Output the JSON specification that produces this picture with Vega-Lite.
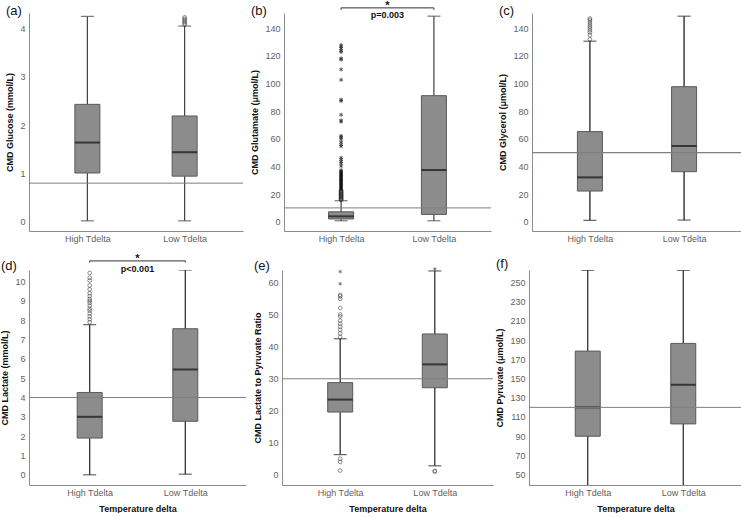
{
"$schema": "https://vega.github.io/schema/vega-lite/v6.json",
"padding": {"left": 0, "top": -1, "right": 0, "bottom": 0},
"background": "white",
"config": {
  "view": {"stroke": null},
  "axis": {"domainColor": "#8c8c8c", "domainWidth": 1, "ticks": false, "grid": false, "labelOverlap": false, "labelFont": "Liberation Sans", "labelFontSize": 9, "labelColor": "#5f5f5f", "titleFont": "Liberation Sans", "titleFontSize": 9, "titleFontWeight": "bold", "titleColor": "#111111", "labelPadding": 4, "titlePadding": 5},
  "axisX": {"labelPadding": 3},
  "title": {"anchor": "start", "frame": "bounds", "font": "Liberation Sans", "fontSize": 13, "fontWeight": "normal", "color": "#111111", "offset": 0}
},
"datasets": {
  "boxes": [
    {"panel": "a", "group": "High Tdelta", "lo": 0.02, "q1": 1.01, "med": 1.64, "q3": 2.43, "hi": 4.25},
    {"panel": "a", "group": "Low Tdelta", "lo": 0.02, "q1": 0.945, "med": 1.44, "q3": 2.19, "hi": 4.05},
    {"panel": "b", "group": "High Tdelta", "lo": 0.7, "q1": 2, "med": 3.9, "q3": 7.2, "hi": 15.2},
    {"panel": "b", "group": "Low Tdelta", "lo": 0.7, "q1": 5.3, "med": 37.4, "q3": 91.2, "hi": 148.7},
    {"panel": "c", "group": "High Tdelta", "lo": 1, "q1": 22.2, "med": 32.1, "q3": 65.2, "hi": 130.6},
    {"panel": "c", "group": "Low Tdelta", "lo": 1.2, "q1": 36.2, "med": 54.8, "q3": 97.7, "hi": 148.7},
    {"panel": "d", "group": "High Tdelta", "lo": 0, "q1": 1.9, "med": 3.0, "q3": 4.26, "hi": 7.77},
    {"panel": "d", "group": "Low Tdelta", "lo": 0.03, "q1": 2.77, "med": 5.45, "q3": 7.56, "hi": 10.6},
    {"panel": "e", "group": "High Tdelta", "lo": 6.3, "q1": 19.6, "med": 23.5, "q3": 28.8, "hi": 42.5},
    {"panel": "e", "group": "Low Tdelta", "lo": 2.8, "q1": 27.2, "med": 34.5, "q3": 44, "hi": 63.7},
    {"panel": "f", "group": "High Tdelta", "lo": 30, "q1": 90, "med": 120, "q3": 178.5, "hi": 262.5},
    {"panel": "f", "group": "Low Tdelta", "lo": 30, "q1": 102.8, "med": 143.5, "q3": 186.5, "hi": 262.5}
  ],
  "refs": [
    {"panel": "a", "value": 0.8},
    {"panel": "b", "value": 10},
    {"panel": "c", "value": 50},
    {"panel": "d", "value": 4},
    {"panel": "e", "value": 30},
    {"panel": "f", "value": 120}
  ],
  "sig": [
    {"panel": "b", "from": "High Tdelta", "to": "Low Tdelta", "label": "p=0.003"},
    {"panel": "d", "from": "High Tdelta", "to": "Low Tdelta", "label": "p<0.001"}
  ],
  "outliers": [
    {"panel": "a", "group": "Low Tdelta", "value": 4.08, "kind": "o"},
    {"panel": "a", "group": "Low Tdelta", "value": 4.11, "kind": "o"},
    {"panel": "a", "group": "Low Tdelta", "value": 4.14, "kind": "o"},
    {"panel": "a", "group": "Low Tdelta", "value": 4.17, "kind": "o"},
    {"panel": "a", "group": "Low Tdelta", "value": 4.2, "kind": "o"},
    {"panel": "a", "group": "Low Tdelta", "value": 4.23, "kind": "o"},
    {"panel": "b", "group": "High Tdelta", "value": 15.8, "kind": "o"},
    {"panel": "b", "group": "High Tdelta", "value": 16.3, "kind": "o"},
    {"panel": "b", "group": "High Tdelta", "value": 16.9, "kind": "o"},
    {"panel": "b", "group": "High Tdelta", "value": 17.4, "kind": "o"},
    {"panel": "b", "group": "High Tdelta", "value": 18.0, "kind": "o"},
    {"panel": "b", "group": "High Tdelta", "value": 18.6, "kind": "o"},
    {"panel": "b", "group": "High Tdelta", "value": 19.1, "kind": "o"},
    {"panel": "b", "group": "High Tdelta", "value": 19.7, "kind": "o"},
    {"panel": "b", "group": "High Tdelta", "value": 20.3, "kind": "o"},
    {"panel": "b", "group": "High Tdelta", "value": 20.9, "kind": "o"},
    {"panel": "b", "group": "High Tdelta", "value": 21.5, "kind": "o"},
    {"panel": "b", "group": "High Tdelta", "value": 22.1, "kind": "o"},
    {"panel": "b", "group": "High Tdelta", "value": 22.7, "kind": "o"},
    {"panel": "b", "group": "High Tdelta", "value": 23.3, "kind": "s"},
    {"panel": "b", "group": "High Tdelta", "value": 23.9, "kind": "s"},
    {"panel": "b", "group": "High Tdelta", "value": 24.5, "kind": "s"},
    {"panel": "b", "group": "High Tdelta", "value": 25.1, "kind": "s"},
    {"panel": "b", "group": "High Tdelta", "value": 25.7, "kind": "s"},
    {"panel": "b", "group": "High Tdelta", "value": 26.3, "kind": "s"},
    {"panel": "b", "group": "High Tdelta", "value": 26.9, "kind": "s"},
    {"panel": "b", "group": "High Tdelta", "value": 27.5, "kind": "s"},
    {"panel": "b", "group": "High Tdelta", "value": 28.1, "kind": "s"},
    {"panel": "b", "group": "High Tdelta", "value": 28.7, "kind": "s"},
    {"panel": "b", "group": "High Tdelta", "value": 29.3, "kind": "s"},
    {"panel": "b", "group": "High Tdelta", "value": 29.9, "kind": "s"},
    {"panel": "b", "group": "High Tdelta", "value": 30.5, "kind": "s"},
    {"panel": "b", "group": "High Tdelta", "value": 31.1, "kind": "s"},
    {"panel": "b", "group": "High Tdelta", "value": 31.7, "kind": "s"},
    {"panel": "b", "group": "High Tdelta", "value": 32.3, "kind": "s"},
    {"panel": "b", "group": "High Tdelta", "value": 32.9, "kind": "s"},
    {"panel": "b", "group": "High Tdelta", "value": 33.5, "kind": "s"},
    {"panel": "b", "group": "High Tdelta", "value": 34.1, "kind": "s"},
    {"panel": "b", "group": "High Tdelta", "value": 34.7, "kind": "s"},
    {"panel": "b", "group": "High Tdelta", "value": 35.3, "kind": "s"},
    {"panel": "b", "group": "High Tdelta", "value": 35.9, "kind": "s"},
    {"panel": "b", "group": "High Tdelta", "value": 36.5, "kind": "s"},
    {"panel": "b", "group": "High Tdelta", "value": 37.3, "kind": "s"},
    {"panel": "b", "group": "High Tdelta", "value": 40.2, "kind": "s"},
    {"panel": "b", "group": "High Tdelta", "value": 42.1, "kind": "s"},
    {"panel": "b", "group": "High Tdelta", "value": 43.4, "kind": "s"},
    {"panel": "b", "group": "High Tdelta", "value": 44.9, "kind": "s"},
    {"panel": "b", "group": "High Tdelta", "value": 46.3, "kind": "s"},
    {"panel": "b", "group": "High Tdelta", "value": 54.6, "kind": "s"},
    {"panel": "b", "group": "High Tdelta", "value": 55.8, "kind": "s"},
    {"panel": "b", "group": "High Tdelta", "value": 57.6, "kind": "s"},
    {"panel": "b", "group": "High Tdelta", "value": 59.8, "kind": "s"},
    {"panel": "b", "group": "High Tdelta", "value": 61.2, "kind": "s"},
    {"panel": "b", "group": "High Tdelta", "value": 62.1, "kind": "s"},
    {"panel": "b", "group": "High Tdelta", "value": 72.4, "kind": "s"},
    {"panel": "b", "group": "High Tdelta", "value": 73.3, "kind": "s"},
    {"panel": "b", "group": "High Tdelta", "value": 77.4, "kind": "s"},
    {"panel": "b", "group": "High Tdelta", "value": 87.4, "kind": "s"},
    {"panel": "b", "group": "High Tdelta", "value": 88.3, "kind": "s"},
    {"panel": "b", "group": "High Tdelta", "value": 102.7, "kind": "s"},
    {"panel": "b", "group": "High Tdelta", "value": 110.2, "kind": "s"},
    {"panel": "b", "group": "High Tdelta", "value": 117.3, "kind": "s"},
    {"panel": "b", "group": "High Tdelta", "value": 118.1, "kind": "s"},
    {"panel": "b", "group": "High Tdelta", "value": 122.8, "kind": "s"},
    {"panel": "b", "group": "High Tdelta", "value": 123.9, "kind": "s"},
    {"panel": "b", "group": "High Tdelta", "value": 125.4, "kind": "s"},
    {"panel": "b", "group": "High Tdelta", "value": 126.6, "kind": "s"},
    {"panel": "b", "group": "High Tdelta", "value": 127.8, "kind": "s"},
    {"panel": "c", "group": "High Tdelta", "value": 132, "kind": "o"},
    {"panel": "c", "group": "High Tdelta", "value": 135, "kind": "o"},
    {"panel": "c", "group": "High Tdelta", "value": 137, "kind": "o"},
    {"panel": "c", "group": "High Tdelta", "value": 138.5, "kind": "o"},
    {"panel": "c", "group": "High Tdelta", "value": 140, "kind": "o"},
    {"panel": "c", "group": "High Tdelta", "value": 141.5, "kind": "o"},
    {"panel": "c", "group": "High Tdelta", "value": 143, "kind": "o"},
    {"panel": "c", "group": "High Tdelta", "value": 144.5, "kind": "o"},
    {"panel": "c", "group": "High Tdelta", "value": 146, "kind": "o"},
    {"panel": "c", "group": "High Tdelta", "value": 147, "kind": "o"},
    {"panel": "d", "group": "High Tdelta", "value": 7.9, "kind": "o"},
    {"panel": "d", "group": "High Tdelta", "value": 8.05, "kind": "o"},
    {"panel": "d", "group": "High Tdelta", "value": 8.2, "kind": "o"},
    {"panel": "d", "group": "High Tdelta", "value": 8.35, "kind": "o"},
    {"panel": "d", "group": "High Tdelta", "value": 8.5, "kind": "o"},
    {"panel": "d", "group": "High Tdelta", "value": 8.6, "kind": "o"},
    {"panel": "d", "group": "High Tdelta", "value": 8.75, "kind": "o"},
    {"panel": "d", "group": "High Tdelta", "value": 8.9, "kind": "o"},
    {"panel": "d", "group": "High Tdelta", "value": 9.0, "kind": "o"},
    {"panel": "d", "group": "High Tdelta", "value": 9.1, "kind": "o"},
    {"panel": "d", "group": "High Tdelta", "value": 9.25, "kind": "o"},
    {"panel": "d", "group": "High Tdelta", "value": 9.4, "kind": "o"},
    {"panel": "d", "group": "High Tdelta", "value": 9.6, "kind": "o"},
    {"panel": "d", "group": "High Tdelta", "value": 9.8, "kind": "o"},
    {"panel": "d", "group": "High Tdelta", "value": 10.05, "kind": "o"},
    {"panel": "d", "group": "High Tdelta", "value": 10.2, "kind": "o"},
    {"panel": "d", "group": "High Tdelta", "value": 10.45, "kind": "o"},
    {"panel": "e", "group": "High Tdelta", "value": 43.1, "kind": "o"},
    {"panel": "e", "group": "High Tdelta", "value": 44.2, "kind": "o"},
    {"panel": "e", "group": "High Tdelta", "value": 45.3, "kind": "o"},
    {"panel": "e", "group": "High Tdelta", "value": 46.3, "kind": "o"},
    {"panel": "e", "group": "High Tdelta", "value": 47.2, "kind": "o"},
    {"panel": "e", "group": "High Tdelta", "value": 48.2, "kind": "o"},
    {"panel": "e", "group": "High Tdelta", "value": 49.5, "kind": "o"},
    {"panel": "e", "group": "High Tdelta", "value": 50.1, "kind": "o"},
    {"panel": "e", "group": "High Tdelta", "value": 52.1, "kind": "o"},
    {"panel": "e", "group": "High Tdelta", "value": 55.0, "kind": "o"},
    {"panel": "e", "group": "High Tdelta", "value": 55.8, "kind": "o"},
    {"panel": "e", "group": "High Tdelta", "value": 56.2, "kind": "o"},
    {"panel": "e", "group": "High Tdelta", "value": 59.7, "kind": "s"},
    {"panel": "e", "group": "High Tdelta", "value": 63.5, "kind": "s"},
    {"panel": "e", "group": "High Tdelta", "value": 5.0, "kind": "o"},
    {"panel": "e", "group": "High Tdelta", "value": 4.0, "kind": "o"},
    {"panel": "e", "group": "High Tdelta", "value": 1.3, "kind": "o"},
    {"panel": "e", "group": "Low Tdelta", "value": 1.0, "kind": "o"},
    {"panel": "e", "group": "Low Tdelta", "value": 1.2, "kind": "o"},
    {"panel": "e", "group": "Low Tdelta", "value": 64.3, "kind": "s"}
  ]
},
"spacing": 9,
"vconcat": [
{
"spacing": 41,
"bounds": "flush",
"hconcat": [
{
  "width": 214, "height": 218,
  "title": {"text": "(a)", "dy": 9},
  "resolve": {"axis": {"y": "independent"}},
  "layer": [
    {"data": {"name": "boxes"}, "transform": [{"filter": "datum.panel == 'a'"}],
     "mark": {"type": "rule", "color": "#404040", "strokeWidth": 1.2, "clip": true},
     "encoding": {
       "x": {"field": "group", "type": "nominal", "scale": {"type": "point", "padding": 0.6}, "axis": {"title": null, "labelAngle": 0}},
       "y": {"field": "lo", "type": "quantitative", "scale": {"domain": [-0.19, 4.32], "nice": false, "zero": false}, "axis": {"title": "CMD Glucose (mmol/L)", "values": [0, 1, 2, 3, 4], "labelOverlap": false}},
       "y2": {"field": "hi"}}},
    {"data": {"name": "boxes"}, "transform": [{"filter": "datum.panel == 'a'"}],
     "mark": {"type": "tick", "color": "#404040", "size": 13, "thickness": 1.2, "clip": true},
     "encoding": {"x": {"field": "group", "type": "nominal"}, "y": {"field": "lo", "type": "quantitative", "scale": {"domain": [-0.19, 4.32]}, "axis": null}}},
    {"data": {"name": "boxes"}, "transform": [{"filter": "datum.panel == 'a'"}],
     "mark": {"type": "tick", "color": "#404040", "size": 13, "thickness": 1.2, "clip": true},
     "encoding": {"x": {"field": "group", "type": "nominal"}, "y": {"field": "hi", "type": "quantitative", "scale": {"domain": [-0.19, 4.32]}, "axis": null}}},
    {"data": {"name": "boxes"}, "transform": [{"filter": "datum.panel == 'a'"}],
     "mark": {"type": "bar", "size": 25, "fill": "#8c8c8c", "stroke": "#5a5a5a", "strokeWidth": 1},
     "encoding": {"x": {"field": "group", "type": "nominal"}, "y": {"field": "q1", "type": "quantitative", "scale": {"domain": [-0.19, 4.32]}, "axis": null}, "y2": {"field": "q3"}}},
    {"data": {"name": "boxes"}, "transform": [{"filter": "datum.panel == 'a'"}],
     "mark": {"type": "tick", "color": "#111111", "size": 25, "thickness": 2},
     "encoding": {"x": {"field": "group", "type": "nominal"}, "y": {"field": "med", "type": "quantitative", "scale": {"domain": [-0.19, 4.32]}, "axis": null}}},
    {"data": {"name": "outliers"}, "transform": [{"filter": "datum.panel == 'a' && datum.kind == 'o'"}],
     "mark": {"type": "point", "shape": "circle", "filled": false, "size": 14, "stroke": "#333333", "strokeWidth": 0.8},
     "encoding": {"x": {"field": "group", "type": "nominal"}, "y": {"field": "value", "type": "quantitative", "scale": {"domain": [-0.19, 4.32]}, "axis": null}}},
    {"data": {"name": "refs"}, "transform": [{"filter": "datum.panel == 'a'"}],
     "mark": {"type": "rule", "color": "#7f7f7f", "strokeWidth": 1},
     "encoding": {"y": {"field": "value", "type": "quantitative", "scale": {"domain": [-0.19, 4.32]}, "axis": null}}}
  ]
},
{
  "width": 207, "height": 218,
  "title": {"text": "(b)", "dy": 22},
  "resolve": {"axis": {"y": "independent"}},
  "layer": [
    {"data": {"name": "boxes"}, "transform": [{"filter": "datum.panel == 'b'"}],
     "mark": {"type": "rule", "color": "#404040", "strokeWidth": 1.2, "clip": true},
     "encoding": {
       "x": {"field": "group", "type": "nominal", "scale": {"type": "point", "padding": 0.615}, "axis": {"title": null, "labelAngle": 0}},
       "y": {"field": "lo", "type": "quantitative", "scale": {"domain": [-6.7, 151], "nice": false, "zero": false}, "axis": {"title": "CMD Glutamate (μmol/L)", "values": [0, 20, 40, 60, 80, 100, 120, 140], "labelOverlap": false}},
       "y2": {"field": "hi"}}},
    {"data": {"name": "boxes"}, "transform": [{"filter": "datum.panel == 'b'"}],
     "mark": {"type": "tick", "color": "#404040", "size": 13, "thickness": 1.2, "clip": true},
     "encoding": {"x": {"field": "group", "type": "nominal"}, "y": {"field": "lo", "type": "quantitative", "scale": {"domain": [-6.7, 151]}, "axis": null}}},
    {"data": {"name": "boxes"}, "transform": [{"filter": "datum.panel == 'b'"}],
     "mark": {"type": "tick", "color": "#404040", "size": 13, "thickness": 1.2, "clip": true},
     "encoding": {"x": {"field": "group", "type": "nominal"}, "y": {"field": "hi", "type": "quantitative", "scale": {"domain": [-6.7, 151]}, "axis": null}}},
    {"data": {"name": "boxes"}, "transform": [{"filter": "datum.panel == 'b'"}],
     "mark": {"type": "bar", "size": 25, "fill": "#8c8c8c", "stroke": "#5a5a5a", "strokeWidth": 1},
     "encoding": {"x": {"field": "group", "type": "nominal"}, "y": {"field": "q1", "type": "quantitative", "scale": {"domain": [-6.7, 151]}, "axis": null}, "y2": {"field": "q3"}}},
    {"data": {"name": "boxes"}, "transform": [{"filter": "datum.panel == 'b'"}],
     "mark": {"type": "tick", "color": "#111111", "size": 25, "thickness": 2},
     "encoding": {"x": {"field": "group", "type": "nominal"}, "y": {"field": "med", "type": "quantitative", "scale": {"domain": [-6.7, 151]}, "axis": null}}},
    {"data": {"name": "outliers"}, "transform": [{"filter": "datum.panel == 'b' && datum.kind == 'o'"}],
     "mark": {"type": "point", "shape": "circle", "filled": false, "size": 14, "stroke": "#222222", "strokeWidth": 0.9},
     "encoding": {"x": {"field": "group", "type": "nominal"}, "y": {"field": "value", "type": "quantitative", "scale": {"domain": [-6.7, 151]}, "axis": null}}},
    {"data": {"name": "outliers"}, "transform": [{"filter": "datum.panel == 'b' && datum.kind == 's'"}],
     "mark": {"type": "point", "shape": "M0,-1L0,1M-0.87,-0.5L0.87,0.5M-0.87,0.5L0.87,-0.5", "filled": false, "size": 16, "stroke": "#111111", "strokeWidth": 1},
     "encoding": {"x": {"field": "group", "type": "nominal"}, "y": {"field": "value", "type": "quantitative", "scale": {"domain": [-6.7, 151]}, "axis": null}}},
    {"data": {"name": "refs"}, "transform": [{"filter": "datum.panel == 'b'"}],
     "mark": {"type": "rule", "color": "#7f7f7f", "strokeWidth": 1},
     "encoding": {"y": {"field": "value", "type": "quantitative", "scale": {"domain": [-6.7, 151]}, "axis": null}}},
    {"data": {"name": "sig"}, "transform": [{"filter": "datum.panel == 'b'"}],
     "mark": {"type": "rule", "color": "#333333", "strokeWidth": 1},
     "encoding": {"x": {"field": "from", "type": "nominal"}, "x2": {"field": "to"}, "y": {"datum": 154.7, "type": "quantitative", "scale": {"domain": [-6.7, 151]}, "axis": null}}},
    {"data": {"name": "sig"}, "transform": [{"filter": "datum.panel == 'b'"}],
     "mark": {"type": "rule", "color": "#333333", "strokeWidth": 1},
     "encoding": {"x": {"field": "from", "type": "nominal"}, "y": {"datum": 154.7, "type": "quantitative", "scale": {"domain": [-6.7, 151]}, "axis": null}, "y2": {"datum": 153.3}}},
    {"data": {"name": "sig"}, "transform": [{"filter": "datum.panel == 'b'"}],
     "mark": {"type": "rule", "color": "#333333", "strokeWidth": 1},
     "encoding": {"x": {"field": "to", "type": "nominal"}, "y": {"datum": 154.7, "type": "quantitative", "scale": {"domain": [-6.7, 151]}, "axis": null}, "y2": {"datum": 153.3}}},
    {"data": {"name": "sig"}, "transform": [{"filter": "datum.panel == 'b'"}],
     "mark": {"type": "text", "dx": 46.4, "dy": 1, "fontSize": 11, "fontWeight": "bold", "font": "Liberation Sans", "baseline": "alphabetic", "color": "#111111"},
     "encoding": {"x": {"field": "from", "type": "nominal"}, "y": {"datum": 154.7, "type": "quantitative", "scale": {"domain": [-6.7, 151]}, "axis": null}, "text": {"value": "*"}}},
    {"data": {"name": "sig"}, "transform": [{"filter": "datum.panel == 'b'"}],
     "mark": {"type": "text", "dx": 46.4, "fontSize": 9, "fontWeight": "bold", "font": "Liberation Sans", "baseline": "middle", "color": "#111111"},
     "encoding": {"x": {"field": "from", "type": "nominal"}, "y": {"datum": 149.6, "type": "quantitative", "scale": {"domain": [-6.7, 151]}, "axis": null}, "text": {"field": "label"}}}
  ]
},
{
  "width": 210, "height": 218,
  "title": {"text": "(c)", "dy": 9},
  "resolve": {"axis": {"y": "independent"}},
  "layer": [
    {"data": {"name": "boxes"}, "transform": [{"filter": "datum.panel == 'c'"}],
     "mark": {"type": "rule", "color": "#222222", "strokeWidth": 1.3, "clip": true},
     "encoding": {
       "x": {"field": "group", "type": "nominal", "scale": {"type": "point", "padding": 0.615}, "axis": {"title": null, "labelAngle": 0}},
       "y": {"field": "lo", "type": "quantitative", "scale": {"domain": [-6.7, 151], "nice": false, "zero": false}, "axis": {"title": "CMD Glycerol (μmol/L)", "values": [0, 20, 40, 60, 80, 100, 120, 140], "labelOverlap": false}},
       "y2": {"field": "hi"}}},
    {"data": {"name": "boxes"}, "transform": [{"filter": "datum.panel == 'c'"}],
     "mark": {"type": "tick", "color": "#222222", "size": 13, "thickness": 1.2, "clip": true},
     "encoding": {"x": {"field": "group", "type": "nominal"}, "y": {"field": "lo", "type": "quantitative", "scale": {"domain": [-6.7, 151]}, "axis": null}}},
    {"data": {"name": "boxes"}, "transform": [{"filter": "datum.panel == 'c'"}],
     "mark": {"type": "tick", "color": "#222222", "size": 13, "thickness": 1.2, "clip": true},
     "encoding": {"x": {"field": "group", "type": "nominal"}, "y": {"field": "hi", "type": "quantitative", "scale": {"domain": [-6.7, 151]}, "axis": null}}},
    {"data": {"name": "boxes"}, "transform": [{"filter": "datum.panel == 'c'"}],
     "mark": {"type": "bar", "size": 25, "fill": "#8c8c8c", "stroke": "#5a5a5a", "strokeWidth": 1},
     "encoding": {"x": {"field": "group", "type": "nominal"}, "y": {"field": "q1", "type": "quantitative", "scale": {"domain": [-6.7, 151]}, "axis": null}, "y2": {"field": "q3"}}},
    {"data": {"name": "boxes"}, "transform": [{"filter": "datum.panel == 'c'"}],
     "mark": {"type": "tick", "color": "#111111", "size": 25, "thickness": 2},
     "encoding": {"x": {"field": "group", "type": "nominal"}, "y": {"field": "med", "type": "quantitative", "scale": {"domain": [-6.7, 151]}, "axis": null}}},
    {"data": {"name": "outliers"}, "transform": [{"filter": "datum.panel == 'c' && datum.kind == 'o'"}],
     "mark": {"type": "point", "shape": "circle", "filled": false, "size": 14, "stroke": "#333333", "strokeWidth": 0.8},
     "encoding": {"x": {"field": "group", "type": "nominal"}, "y": {"field": "value", "type": "quantitative", "scale": {"domain": [-6.7, 151]}, "axis": null}}},
    {"data": {"name": "refs"}, "transform": [{"filter": "datum.panel == 'c'"}],
     "mark": {"type": "rule", "color": "#7f7f7f", "strokeWidth": 1.2},
     "encoding": {"y": {"field": "value", "type": "quantitative", "scale": {"domain": [-6.7, 151]}, "axis": null}}}
  ]
}
]
},
{
"spacing": 36,
"bounds": "flush",
"hconcat": [
{
  "width": 217, "height": 215,
  "title": {"text": "(d)", "dy": 24},
  "resolve": {"axis": {"y": "independent"}},
  "layer": [
    {"data": {"name": "boxes"}, "transform": [{"filter": "datum.panel == 'd'"}],
     "mark": {"type": "rule", "color": "#222222", "strokeWidth": 1.2, "clip": true},
     "encoding": {
       "x": {"field": "group", "type": "nominal", "scale": {"type": "point", "padding": 0.635}, "axis": {"title": "Temperature delta", "labelAngle": 0, "titlePadding": 7}},
       "y": {"field": "lo", "type": "quantitative", "scale": {"domain": [-0.53, 10.6], "nice": false, "zero": false}, "axis": {"title": "CMD Lactate (mmol/L)", "values": [0, 1, 2, 3, 4, 5, 6, 7, 8, 9, 10], "labelOverlap": false}},
       "y2": {"field": "hi"}}},
    {"data": {"name": "boxes"}, "transform": [{"filter": "datum.panel == 'd'"}],
     "mark": {"type": "tick", "color": "#222222", "size": 13, "thickness": 1.2, "clip": true},
     "encoding": {"x": {"field": "group", "type": "nominal"}, "y": {"field": "lo", "type": "quantitative", "scale": {"domain": [-0.53, 10.6]}, "axis": null}}},
    {"data": {"name": "boxes"}, "transform": [{"filter": "datum.panel == 'd'"}],
     "mark": {"type": "tick", "color": "#222222", "size": 13, "thickness": 1.2, "clip": true},
     "encoding": {"x": {"field": "group", "type": "nominal"}, "y": {"field": "hi", "type": "quantitative", "scale": {"domain": [-0.53, 10.6]}, "axis": null}}},
    {"data": {"name": "boxes"}, "transform": [{"filter": "datum.panel == 'd'"}],
     "mark": {"type": "bar", "size": 25, "fill": "#8c8c8c", "stroke": "#5a5a5a", "strokeWidth": 1},
     "encoding": {"x": {"field": "group", "type": "nominal"}, "y": {"field": "q1", "type": "quantitative", "scale": {"domain": [-0.53, 10.6]}, "axis": null}, "y2": {"field": "q3"}}},
    {"data": {"name": "boxes"}, "transform": [{"filter": "datum.panel == 'd'"}],
     "mark": {"type": "tick", "color": "#111111", "size": 25, "thickness": 2},
     "encoding": {"x": {"field": "group", "type": "nominal"}, "y": {"field": "med", "type": "quantitative", "scale": {"domain": [-0.53, 10.6]}, "axis": null}}},
    {"data": {"name": "outliers"}, "transform": [{"filter": "datum.panel == 'd' && datum.kind == 'o'"}],
     "mark": {"type": "point", "shape": "circle", "filled": false, "size": 14, "stroke": "#333333", "strokeWidth": 0.8},
     "encoding": {"x": {"field": "group", "type": "nominal"}, "y": {"field": "value", "type": "quantitative", "scale": {"domain": [-0.53, 10.6]}, "axis": null}}},
    {"data": {"name": "refs"}, "transform": [{"filter": "datum.panel == 'd'"}],
     "mark": {"type": "rule", "color": "#7f7f7f", "strokeWidth": 1},
     "encoding": {"y": {"field": "value", "type": "quantitative", "scale": {"domain": [-0.53, 10.6]}, "axis": null}}},
    {"data": {"name": "sig"}, "transform": [{"filter": "datum.panel == 'd'"}],
     "mark": {"type": "rule", "color": "#333333", "strokeWidth": 1},
     "encoding": {"x": {"field": "from", "type": "nominal"}, "x2": {"field": "to"}, "y": {"datum": 11.07, "type": "quantitative", "scale": {"domain": [-0.53, 10.6]}, "axis": null}}},
    {"data": {"name": "sig"}, "transform": [{"filter": "datum.panel == 'd'"}],
     "mark": {"type": "rule", "color": "#333333", "strokeWidth": 1},
     "encoding": {"x": {"field": "from", "type": "nominal"}, "y": {"datum": 11.07, "type": "quantitative", "scale": {"domain": [-0.53, 10.6]}, "axis": null}, "y2": {"datum": 10.99}}},
    {"data": {"name": "sig"}, "transform": [{"filter": "datum.panel == 'd'"}],
     "mark": {"type": "rule", "color": "#333333", "strokeWidth": 1},
     "encoding": {"x": {"field": "to", "type": "nominal"}, "y": {"datum": 11.07, "type": "quantitative", "scale": {"domain": [-0.53, 10.6]}, "axis": null}, "y2": {"datum": 10.99}}},
    {"data": {"name": "sig"}, "transform": [{"filter": "datum.panel == 'd'"}],
     "mark": {"type": "text", "dx": 47.8, "dy": 1, "fontSize": 11, "fontWeight": "bold", "font": "Liberation Sans", "baseline": "alphabetic", "color": "#111111"},
     "encoding": {"x": {"field": "from", "type": "nominal"}, "y": {"datum": 11.07, "type": "quantitative", "scale": {"domain": [-0.53, 10.6]}, "axis": null}, "text": {"value": "*"}}},
    {"data": {"name": "sig"}, "transform": [{"filter": "datum.panel == 'd'"}],
     "mark": {"type": "text", "dx": 47.8, "fontSize": 9, "fontWeight": "bold", "font": "Liberation Sans", "baseline": "middle", "color": "#111111"},
     "encoding": {"x": {"field": "from", "type": "nominal"}, "y": {"datum": 10.67, "type": "quantitative", "scale": {"domain": [-0.53, 10.6]}, "axis": null}, "text": {"field": "label"}}}
  ]
},
{
  "width": 211, "height": 215,
  "title": {"text": "(e)", "dy": 11},
  "resolve": {"axis": {"y": "independent"}},
  "layer": [
    {"data": {"name": "boxes"}, "transform": [{"filter": "datum.panel == 'e'"}],
     "mark": {"type": "rule", "color": "#222222", "strokeWidth": 1.2, "clip": true},
     "encoding": {
       "x": {"field": "group", "type": "nominal", "scale": {"type": "point", "padding": 0.615}, "axis": {"title": "Temperature delta", "labelAngle": 0, "titlePadding": 7}},
       "y": {"field": "lo", "type": "quantitative", "scale": {"domain": [-3.2, 64], "nice": false, "zero": false}, "axis": {"title": "CMD Lactate to Pyruvate Ratio", "values": [0, 10, 20, 30, 40, 50, 60], "labelOverlap": false}},
       "y2": {"field": "hi"}}},
    {"data": {"name": "boxes"}, "transform": [{"filter": "datum.panel == 'e'"}],
     "mark": {"type": "tick", "color": "#222222", "size": 13, "thickness": 1.2, "clip": true},
     "encoding": {"x": {"field": "group", "type": "nominal"}, "y": {"field": "lo", "type": "quantitative", "scale": {"domain": [-3.2, 64]}, "axis": null}}},
    {"data": {"name": "boxes"}, "transform": [{"filter": "datum.panel == 'e'"}],
     "mark": {"type": "tick", "color": "#222222", "size": 13, "thickness": 1.2, "clip": true},
     "encoding": {"x": {"field": "group", "type": "nominal"}, "y": {"field": "hi", "type": "quantitative", "scale": {"domain": [-3.2, 64]}, "axis": null}}},
    {"data": {"name": "boxes"}, "transform": [{"filter": "datum.panel == 'e'"}],
     "mark": {"type": "bar", "size": 25, "fill": "#8c8c8c", "stroke": "#5a5a5a", "strokeWidth": 1},
     "encoding": {"x": {"field": "group", "type": "nominal"}, "y": {"field": "q1", "type": "quantitative", "scale": {"domain": [-3.2, 64]}, "axis": null}, "y2": {"field": "q3"}}},
    {"data": {"name": "boxes"}, "transform": [{"filter": "datum.panel == 'e'"}],
     "mark": {"type": "tick", "color": "#111111", "size": 25, "thickness": 2},
     "encoding": {"x": {"field": "group", "type": "nominal"}, "y": {"field": "med", "type": "quantitative", "scale": {"domain": [-3.2, 64]}, "axis": null}}},
    {"data": {"name": "outliers"}, "transform": [{"filter": "datum.panel == 'e' && datum.kind == 'o'"}],
     "mark": {"type": "point", "shape": "circle", "filled": false, "size": 14, "stroke": "#333333", "strokeWidth": 0.8},
     "encoding": {"x": {"field": "group", "type": "nominal"}, "y": {"field": "value", "type": "quantitative", "scale": {"domain": [-3.2, 64]}, "axis": null}}},
    {"data": {"name": "outliers"}, "transform": [{"filter": "datum.panel == 'e' && datum.kind == 's'"}],
     "mark": {"type": "point", "shape": "M0,-1L0,1M-0.87,-0.5L0.87,0.5M-0.87,0.5L0.87,-0.5", "filled": false, "size": 12, "stroke": "#333333", "strokeWidth": 0.9},
     "encoding": {"x": {"field": "group", "type": "nominal"}, "y": {"field": "value", "type": "quantitative", "scale": {"domain": [-3.2, 64]}, "axis": null}}},
    {"data": {"name": "refs"}, "transform": [{"filter": "datum.panel == 'e'"}],
     "mark": {"type": "rule", "color": "#7f7f7f", "strokeWidth": 1},
     "encoding": {"y": {"field": "value", "type": "quantitative", "scale": {"domain": [-3.2, 64]}, "axis": null}}}
  ]
},
{
  "width": 213, "height": 215,
  "title": {"text": "(f)", "dy": 5},
  "resolve": {"axis": {"y": "independent"}},
  "layer": [
    {"data": {"name": "boxes"}, "transform": [{"filter": "datum.panel == 'f'"}],
     "mark": {"type": "rule", "color": "#222222", "strokeWidth": 1.2, "clip": true},
     "encoding": {
       "x": {"field": "group", "type": "nominal", "scale": {"type": "point", "padding": 0.615}, "axis": {"title": "Temperature delta", "labelAngle": 0, "titlePadding": 7}},
       "y": {"field": "lo", "type": "quantitative", "scale": {"domain": [39.3, 262.8], "nice": false, "zero": false}, "axis": {"title": "CMD Pyruvate (μmol/L)", "values": [50, 70, 90, 110, 130, 150, 170, 190, 210, 230, 250], "labelOverlap": false}},
       "y2": {"field": "hi"}}},
    {"data": {"name": "boxes"}, "transform": [{"filter": "datum.panel == 'f'"}],
     "mark": {"type": "tick", "color": "#222222", "size": 13, "thickness": 1.2, "clip": true},
     "encoding": {"x": {"field": "group", "type": "nominal"}, "y": {"field": "lo", "type": "quantitative", "scale": {"domain": [39.3, 262.8]}, "axis": null}}},
    {"data": {"name": "boxes"}, "transform": [{"filter": "datum.panel == 'f'"}],
     "mark": {"type": "tick", "color": "#222222", "size": 13, "thickness": 1.2, "clip": true},
     "encoding": {"x": {"field": "group", "type": "nominal"}, "y": {"field": "hi", "type": "quantitative", "scale": {"domain": [39.3, 262.8]}, "axis": null}}},
    {"data": {"name": "boxes"}, "transform": [{"filter": "datum.panel == 'f'"}],
     "mark": {"type": "bar", "size": 25, "fill": "#8c8c8c", "stroke": "#5a5a5a", "strokeWidth": 1},
     "encoding": {"x": {"field": "group", "type": "nominal"}, "y": {"field": "q1", "type": "quantitative", "scale": {"domain": [39.3, 262.8]}, "axis": null}, "y2": {"field": "q3"}}},
    {"data": {"name": "boxes"}, "transform": [{"filter": "datum.panel == 'f'"}],
     "mark": {"type": "tick", "color": "#111111", "size": 25, "thickness": 2},
     "encoding": {"x": {"field": "group", "type": "nominal"}, "y": {"field": "med", "type": "quantitative", "scale": {"domain": [39.3, 262.8]}, "axis": null}}},
    {"data": {"name": "refs"}, "transform": [{"filter": "datum.panel == 'f'"}],
     "mark": {"type": "rule", "color": "#7f7f7f", "strokeWidth": 1},
     "encoding": {"y": {"field": "value", "type": "quantitative", "scale": {"domain": [39.3, 262.8]}, "axis": null}}}
  ]
}
]
}
]
}
